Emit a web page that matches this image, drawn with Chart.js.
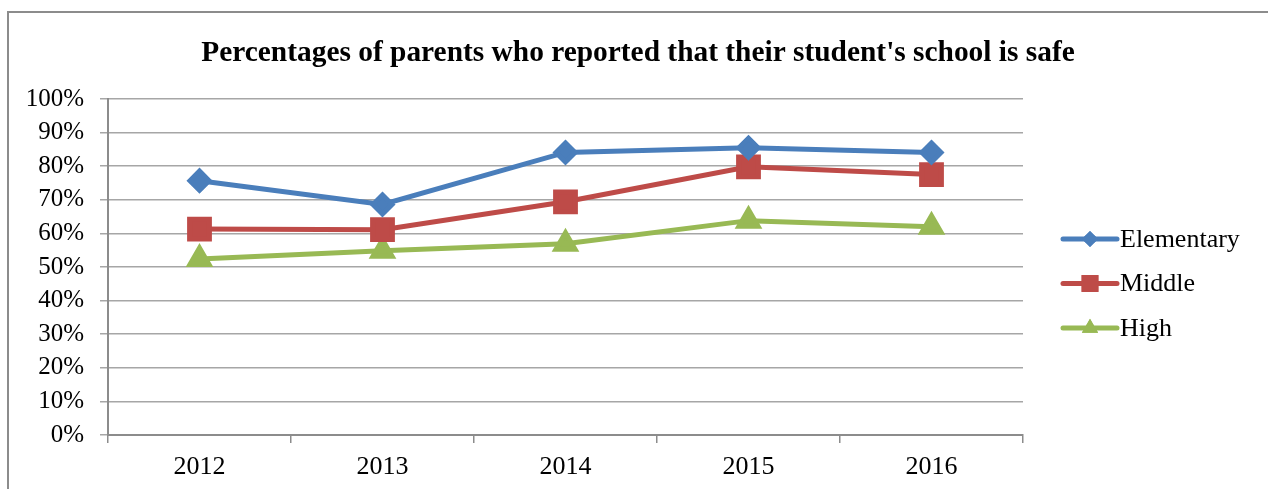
<html>
<head>
<script src="https://cdn.jsdelivr.net/npm/chart.js@4/dist/chart.umd.min.js"></script>
<title>Parents safety survey</title>
<style>
  body { margin: 0; background: #fff; overflow: hidden; }
  #frame { position: absolute; left: 7px; top: 11px; width: 1280px; height: 500px; border: 2px solid #8c8c8c; box-sizing: border-box; }
  #wrap { position: absolute; left: 0; top: 0; width: 1268px; height: 489px; }
</style>
</head>
<body>
<div id="frame"></div>
<div id="wrap"><canvas id="chart" width="1268" height="489"></canvas></div>
<script>
    var years = ['2012', '2013', '2014', '2015', '2016'];
    var elementary = [75.7, 68.6, 84.1, 85.5, 84.1];
    var middle = [61.3, 61.1, 69.4, 79.8, 77.5];
    var high = [52.4, 54.8, 56.9, 63.8, 62.0];
    var yTicks = [0, 10, 20, 30, 40, 50, 60, 70, 80, 90, 100];
    var titleText = "Percentages of parents who reported that their student's school is safe";

    var serif = '"Liberation Serif", "Times New Roman", serif';

    // title centred over the whole frame, not only the plot
    var frameTitle = {
        id: 'frameTitle',
        afterDraw: function(chart) {
            var ctx = chart.ctx;
            ctx.save();
            ctx.fillStyle = '#000';
            ctx.font = 'bold 29.4px ' + serif;
            ctx.textAlign = 'center';
            ctx.textBaseline = 'alphabetic';
            ctx.fillText(titleText, chart.width / 2 + 4, 61);
            ctx.restore();
        }
    };

    // legend drawn as line + marker like the original
    var lineLegend = {
        id: 'lineLegend',
        afterDraw: function(chart) {
            var ctx = chart.ctx;
            var area = chart.chartArea;
            var x0 = area.right + 40;
            var yStart = 239;
            chart.data.datasets.forEach(function(ds, i) {
                var y = yStart + i * 44.5;
                ctx.save();
                ctx.strokeStyle = ds.borderColor;
                ctx.lineWidth = 5;
                ctx.lineCap = 'round';
                ctx.beginPath();
                ctx.moveTo(x0, y);
                ctx.lineTo(x0 + 54, y);
                ctx.stroke();
                ctx.fillStyle = ds.borderColor;
                Chart.helpers.drawPoint(ctx, {
                    pointStyle: ds.pointStyle,
                    radius: ds.pointRadius * 0.85,
                    rotation: 0,
                    borderWidth: 0
                }, x0 + 27, y);
                ctx.fill();
                ctx.fillStyle = '#000';
                ctx.font = '26px ' + serif;
                ctx.textBaseline = 'middle';
                ctx.fillText(ds.label, x0 + 57, y + 1);
                ctx.restore();
            });
        }
    };

    new Chart(document.getElementById('chart'), {
        type: 'line',
        data: {
            labels: years,
            datasets: [{
                label: 'Elementary',
                data: elementary,
                borderColor: '#4a7ebb',
                backgroundColor: '#4a7ebb',
                pointStyle: 'rectRot',
                pointRadius: 9.5,
                borderWidth: 5,
                fill: false
            }, {
                label: 'Middle',
                data: middle,
                borderColor: '#be4b48',
                backgroundColor: '#be4b48',
                pointStyle: 'rect',
                pointRadius: 14,
                borderWidth: 5,
                fill: false
            }, {
                label: 'High',
                data: high,
                borderColor: '#98b954',
                backgroundColor: '#98b954',
                pointStyle: 'triangle',
                pointRadius: 11,
                borderWidth: 5,
                fill: false
            }]
        },
        options: {
            responsive: false,
            animation: false,
            layout: { padding: { left: 0, right: 245, top: 99, bottom: 0 } },
            plugins: {
                legend: { display: false },
                tooltip: { enabled: false },
                title: { display: false }
            },
            elements: { point: { borderWidth: 0 }, line: { tension: 0 } },
            scales: {
                x: {
                    offset: true,
                    grid: {
                        offset: true,
                        drawOnChartArea: false,
                        color: '#8c8c8c',
                        lineWidth: 1.5,
                        tickLength: 8
                    },
                    border: { color: '#8c8c8c', width: 2 },
                    ticks: { color: '#000', font: { family: serif, size: 26 }, padding: 9 },
                    afterFit: function(scale) { scale.height = 54; }
                },
                y: {
                    min: 0,
                    max: 100,
                    afterBuildTicks: function(scale) {
                        scale.ticks = yTicks.map(function(v) { return { value: v }; });
                    },
                    grid: { color: '#a6a6a6', lineWidth: 1.5, tickLength: 8 },
                    border: { color: '#8c8c8c', width: 2 },
                    ticks: {
                        color: '#000',
                        font: { family: serif, size: 25 },
                        padding: 16,
                        callback: function(v) { return v + '%'; }
                    },
                    afterFit: function(scale) { scale.width = 108; }
                }
            }
        },
        plugins: [frameTitle, lineLegend]
    });
</script>
</body>
</html>
